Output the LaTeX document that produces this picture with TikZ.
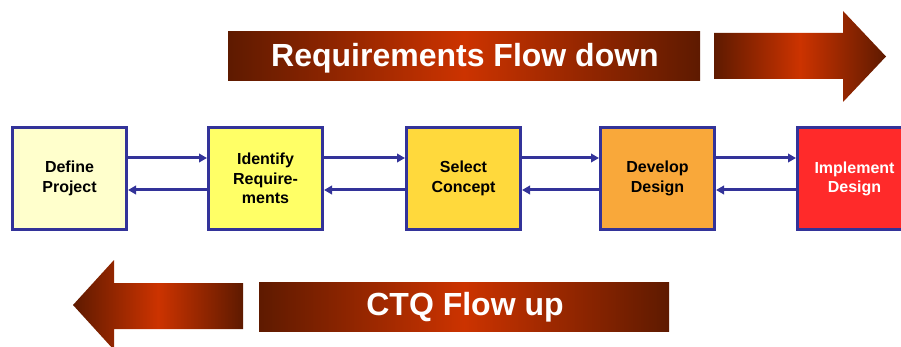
\documentclass[tikz,border=0pt]{standalone}
\usepackage{fontspec}
\setmainfont{Liberation Sans}
\usetikzlibrary{arrows.meta}

\definecolor{rustdark}{RGB}{94,26,0}
\definecolor{rustlight}{RGB}{204,51,0}
\definecolor{frame}{RGB}{51,51,153}
\definecolor{stepA}{RGB}{255,255,204}
\definecolor{stepB}{RGB}{255,255,102}
\definecolor{stepC}{RGB}{255,217,60}
\definecolor{stepD}{RGB}{249,168,58}
\definecolor{stepE}{RGB}{255,42,42}

\tikzset{
  phase/.style={draw=frame, line width=3pt, minimum width=114pt, minimum height=102pt,
    inner sep=0pt, align=center, font=\fontsize{16}{19.5}\selectfont\bfseries},
  rust/.style={left color=rustdark, right color=rustdark, middle color=rustlight},
  bannertext/.style={text=white, font=\fontsize{32}{36}\selectfont\bfseries},
  link/.style={draw=frame, line width=3pt, -{Triangle[length=8pt,width=8.5pt]}},
}

\begin{document}
\begin{tikzpicture}[x=1pt, y=-1pt]
  \useasboundingbox (0,0) rectangle (901,347);
  \clip (0,0) rectangle (901,347);

  % upper banner and arrow: requirements flow down
  \shade[rust] (228,32) rectangle (700,81);
  \node[bannertext] (down) at (465,58) {Requirements Flow down};
  \shade[rust]
    (714,33) -- (843,33) -- (843,11) -- (886,56.5) -- (843,102) -- (843,79) -- (714,79) -- cycle;

  % process steps
  \node[phase, fill=stepA] (s1) at (69.5,178.5) {Define\\Project};
  \node[phase, fill=stepB] (s2) at (265.5,178.5) {Identify\\Require-\\ments};
  \node[phase, fill=stepC] (s3) at (463.5,178.5) {Select\\Concept};
  \node[phase, fill=stepD] (s4) at (657.5,178.5) {Develop\\Design};
  \node[phase, fill=stepE, text=white] (s5) at (854.5,178.5) {\raisebox{-6pt}{\shortstack{Implement\\[1pt]Design}}};

  % forward and backward links between neighbouring steps
  \foreach \a/\b in {s1/s2, s2/s3, s3/s4, s4/s5} {
    \draw[link] ([yshift=20.5pt]\a.east) -- ([yshift=20.5pt]\b.west);
    \draw[link] ([yshift=-11.5pt]\b.west) -- ([yshift=-11.5pt]\a.east);
  }

  % lower arrow and banner: CTQ flow up
  \shade[rust]
    (243,283) -- (114,283) -- (114,260) -- (73,305) -- (114,350) -- (114,329) -- (243,329) -- cycle;
  \shade[rust] (259,282) rectangle (669,331);
  \node[bannertext] (up) at (465,307.5) {CTQ Flow up};
\end{tikzpicture}
\end{document}
